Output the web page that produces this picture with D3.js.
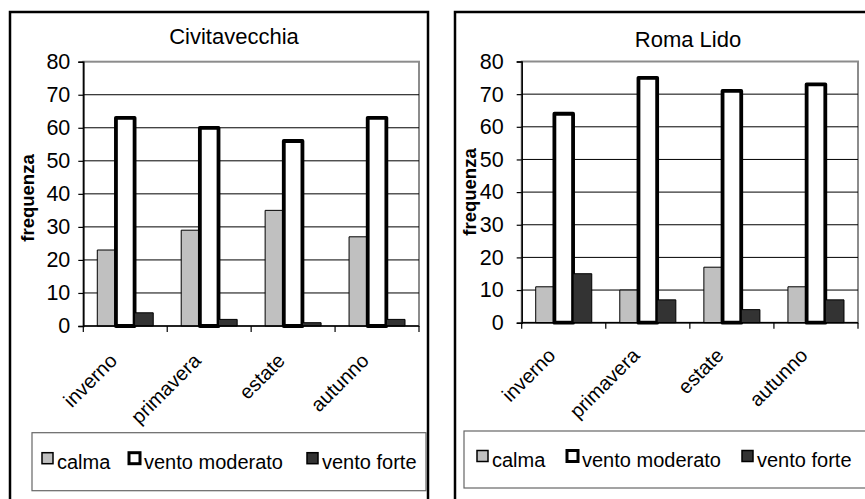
<!DOCTYPE html>
<html><head><meta charset="utf-8">
<script src="https://cdn.jsdelivr.net/npm/d3@7"></script>
<style>
html,body{margin:0;padding:0;background:#fff;}
svg{display:block;font-family:"Liberation Sans",Arial,sans-serif;}
</style></head>
<body>
<svg id="chart" width="865" height="499"></svg>
<script>
const categories = ["inverno", "primavera", "estate", "autunno"];
const seriesNames = ["calma", "vento moderato", "vento forte"];
const yTicks = [0, 10, 20, 30, 40, 50, 60, 70, 80];
const civitavecchiaCalma = [23, 29, 35, 27];
const civitavecchiaModerato = [63, 60, 56, 63];
const civitavecchiaForte = [4, 2, 1, 2];
const romaLidoCalma = [11, 10, 17, 11];
const romaLidoModerato = [64, 75, 71, 73];
const romaLidoForte = [15, 7, 4, 7];

const svg = d3.select("#chart");

const styles = [
  {fill: "#c0c0c0", stroke: "#000", sw: 1},
  {fill: "#ffffff", stroke: "#000", sw: 3.8},
  {fill: "#333333", stroke: "#000", sw: 1}
];

function drawChart(cfg) {
  const g = svg.append("g");
  g.append("rect").attr("x", cfg.frame[0]).attr("y", cfg.frame[1])
    .attr("width", cfg.frame[2]).attr("height", cfg.frame[3])
    .attr("fill", "#fff").attr("stroke", "#000").attr("stroke-width", 2.5);

  const x = d3.scaleBand().domain(categories).range([cfg.px0, cfg.px1]).paddingInner(0).paddingOuter(0);
  const y = d3.scaleLinear().domain([0, 80]).range([cfg.py0, cfg.py1]);
  const bw = x.bandwidth() / 4.5;

  g.append("rect").attr("x", cfg.px0).attr("y", y(80))
    .attr("width", cfg.px1 - cfg.px0).attr("height", y(0) - y(80))
    .attr("fill", "none").attr("stroke", "#8c8c8c").attr("stroke-width", 2);

  g.append("g").selectAll("line").data(yTicks.filter(t => t > 0 && t < 80)).join("line")
    .attr("x1", cfg.px0).attr("x2", cfg.px1)
    .attr("y1", d => y(d)).attr("y2", d => y(d))
    .attr("stroke", "#000").attr("stroke-width", 1);

  const data = [cfg.calma, cfg.moderato, cfg.forte];
  data.forEach((vals, si) => {
    g.append("g").selectAll("rect").data(vals).join("rect")
      .attr("x", (d, i) => x(categories[i]) + bw * 0.75 + si * bw)
      .attr("y", d => y(d))
      .attr("width", bw)
      .attr("height", d => y(0) - y(d))
      .attr("fill", styles[si].fill)
      .attr("stroke", styles[si].stroke)
      .attr("stroke-width", styles[si].sw)
      .attr("stroke-linejoin", "round");
  });

  const yAxis = d3.axisLeft(y).tickValues(yTicks).tickSize(5).tickPadding(cfg.tickPad).tickFormat(d3.format("d"));
  const ya = g.append("g").attr("transform", `translate(${cfg.px0},0)`).call(yAxis);
  ya.select(".domain").attr("stroke", "#000").attr("stroke-width", 1.5);
  ya.selectAll(".tick line").attr("stroke", "#000").attr("stroke-width", 1.2);
  ya.selectAll(".tick text").attr("font-size", 21.5).attr("fill", "#000")
    .attr("font-family", "Liberation Sans, Arial, sans-serif");

  const bounds = categories.map(c => x(c)).concat([cfg.px1]);
  g.append("line").attr("x1", cfg.px0).attr("x2", cfg.px1).attr("y1", y(0)).attr("y2", y(0))
    .attr("stroke", "#000").attr("stroke-width", 1.5);
  g.append("g").selectAll("line").data(bounds).join("line")
    .attr("x1", d => d).attr("x2", d => d).attr("y1", y(0)).attr("y2", y(0) + 6)
    .attr("stroke", "#000").attr("stroke-width", 1.2);

  g.append("g").selectAll("text").data(categories).join("text")
    .attr("transform", c => `translate(${x(c) + x.bandwidth() / 2 + cfg.labDx},${y(0) + cfg.labDy}) rotate(-45)`)
    .attr("text-anchor", "end")
    .attr("font-size", 20).attr("fill", "#000")
    .text(c => c);

  g.append("text").attr("x", cfg.titleX).attr("y", cfg.titleY)
    .attr("text-anchor", "middle").attr("font-size", 22).text(cfg.title);

  g.append("text").attr("transform", `translate(${cfg.ytX},${cfg.ytY}) rotate(-90)`)
    .attr("text-anchor", "middle").attr("font-size", 18.5).attr("font-weight", "bold")
    .attr("dy", "0.35em")
    .text("frequenza");

  const lg = g.append("g");
  lg.append("rect").attr("x", cfg.leg[0]).attr("y", cfg.leg[1]).attr("width", cfg.leg[2]).attr("height", cfg.leg[3])
    .attr("fill", "#fff").attr("stroke", "#666").attr("stroke-width", 1.2);
  const cy = cfg.leg[1] + cfg.leg[3] / 2;
  seriesNames.forEach((s, i) => {
    const sx = cfg.leg[0] + cfg.legOff[i];
    lg.append("rect").attr("x", sx).attr("y", cy - 9).attr("width", 11).attr("height", 11)
      .attr("fill", styles[i].fill).attr("stroke", "#000").attr("stroke-width", i === 1 ? 3 : 1.5);
    lg.append("text").attr("x", sx + 15).attr("y", cy + 7).attr("font-size", 20).text(s);
  });
}

drawChart({
  frame: [10, 12, 418, 520],
  px0: 83.3, px1: 419, py0: 326, py1: 61.7,
  calma: civitavecchiaCalma, moderato: civitavecchiaModerato, forte: civitavecchiaForte,
  title: "Civitavecchia", titleX: 234, titleY: 44,
  ytX: 28, ytY: 198, tickPad: 8,
  labDx: -7, labDy: 36,
  leg: [32, 432.7, 394, 58], legOff: [10, 97, 275]
});
drawChart({
  frame: [455, 12, 430, 520],
  px0: 521.7, px1: 858, py0: 322.7, py1: 61.5,
  calma: romaLidoCalma, moderato: romaLidoModerato, forte: romaLidoForte,
  title: "Roma Lido", titleX: 688, titleY: 47,
  ytX: 470, ytY: 192, tickPad: 13,
  labDx: -7, labDy: 34,
  leg: [464, 431, 420, 57], legOff: [13, 103, 278]
});
</script>
</body></html>
